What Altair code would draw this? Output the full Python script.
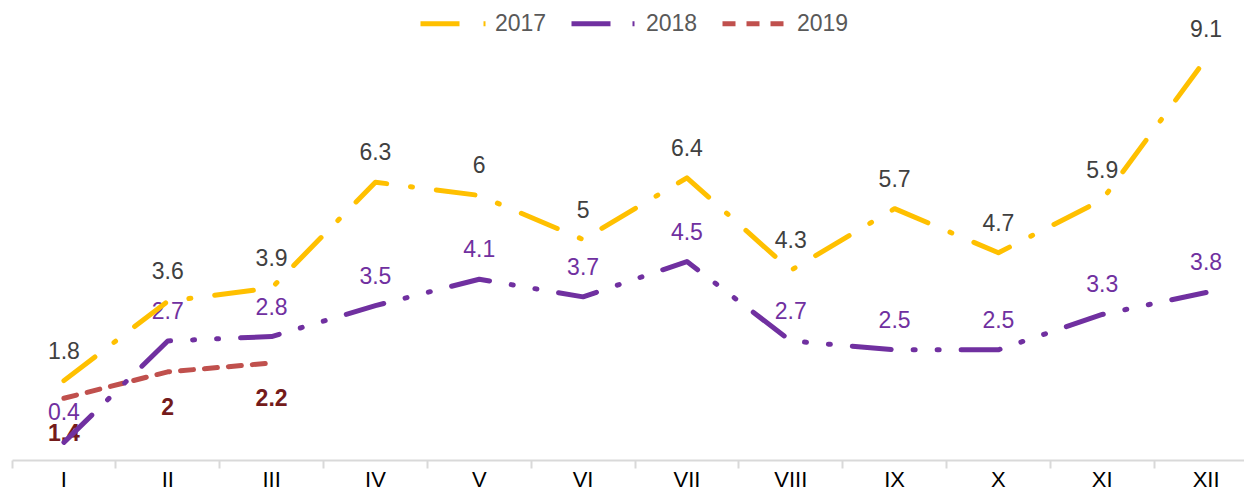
import altair as alt
import pandas as pd

months = ["I", "II", "III", "IV", "V", "VI", "VII", "VIII", "IX", "X", "XI", "XII"]
v2017 = [1.8, 3.6, 3.9, 6.3, 6, 5, 6.4, 4.3, 5.7, 4.7, 5.9, 9.1]
v2018 = [0.4, 2.7, 2.8, 3.5, 4.1, 3.7, 4.5, 2.7, 2.5, 2.5, 3.3, 3.8]
v2019 = [1.4, 2, 2.2]
years = ["2017", "2018", "2019"]

colors = ["#FFC000", "#7030A0", "#C0504D"]
dashes = [[39, 24, 2, 24], [39, 22, 2, 22, 2, 22], [13, 11]]
label_colors = ["#404040", "#7030A0", "#741B1B"]

rows = []
for yr, vals in zip(years, [v2017, v2018, v2019]):
    for m, v in zip(months, vals):
        rows.append({"month": m, "year": yr, "value": v})
df = pd.DataFrame(rows)

FONT = "Liberation Sans"

xscale = alt.Scale(type="band", paddingInner=0, paddingOuter=0)
yscale = alt.Scale(domain=[0, 9.57], nice=False, zero=True)
Y = alt.Y("value:Q", scale=yscale, axis=None)

base = alt.Chart(df)

legend = alt.Legend(
    title=None, orient="none", legendX=406, legendY=-53, direction="horizontal",
    columns=3, symbolType="stroke", symbolSize=5184, symbolStrokeWidth=5,
    labelFontSize=23, labelColor="#595959", labelFont=FONT, columnPadding=14,
    labelOffset=0,
)
color_enc = alt.Color("year:N", scale=alt.Scale(domain=years, range=colors), legend=legend)
dash_enc = alt.StrokeDash("year:N", scale=alt.Scale(domain=years, range=dashes), legend=legend)

tick_axis = alt.Axis(orient="bottom", labels=False, bandPosition=0, tickSize=8, tickWidth=2,
                     tickColor="#D9D9D9", domainColor="#D9D9D9", domainWidth=2, grid=False,
                     title=None)
label_axis = alt.Axis(orient="bottom", domain=False, ticks=False, labelFontSize=22,
                      labelColor="#000000", labelFont=FONT, labelPadding=9, labelAngle=0,
                      grid=False, title=None)

def text_layer(yr, col, dy, bold, axis):
    return base.transform_filter(alt.datum.year == yr).mark_text(
        dy=dy, fontSize=23, font=FONT, color=col, baseline="middle",
        fontWeight="bold" if bold else "normal",
    ).encode(
        x=alt.X("month:O", sort=months, scale=xscale, axis=axis),
        y=Y,
        text=alt.Text("value:Q"),
    )

def line_layer(yr):
    return base.transform_filter(alt.datum.year == yr).mark_line(
        strokeWidth=5, strokeCap="round", strokeJoin="round",
    ).encode(
        x=alt.X("month:O", sort=months, scale=xscale, axis=None),
        y=Y,
        color=color_enc,
        strokeDash=dash_enc,
    )

t17 = text_layer("2017", label_colors[0], -29, False, tick_axis)
t18 = text_layer("2018", label_colors[1], -29, False, label_axis)
t19 = text_layer("2019", label_colors[2], 36, True, None)

chart = alt.layer(
    t17, t18, t19, line_layer("2019"), line_layer("2018"), line_layer("2017")
).resolve_axis(x="independent").resolve_scale(x="shared").properties(
    width=1246, height=422,
    padding={"left": 4, "top": 30, "right": -14, "bottom": 30},
    autosize=alt.AutoSizeParams(type="none"),
).configure_view(stroke=None)

chart.save("out.html", embed_options={"renderer": "svg", "actions": False})
